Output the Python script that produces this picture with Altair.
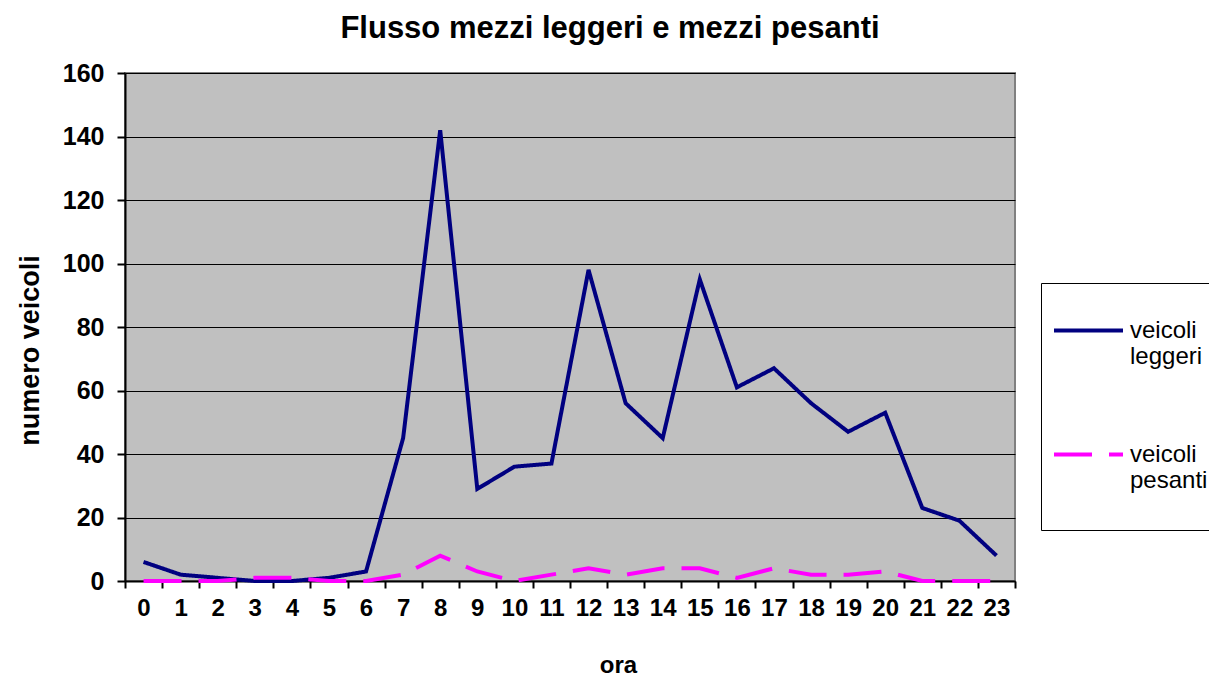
import altair as alt
import pandas as pd

ore = list(range(24))
leggeri = [6, 2, 1, 0, 0, 1, 3, 45, 142, 29, 36, 37, 98, 56, 45, 95, 61, 67, 56, 47, 53, 23, 19, 8]
pesanti = [0, 0, 0, 1, 1, 0, 0, 2, 8, 3, 0, 2, 4, 2, 4, 4, 1, 4, 2, 2, 3, 0, 0, 0]
serie = ["veicoli leggeri", "veicoli pesanti"]
colori = ["#000080", "#FF00FF"]
y_ticks = [0, 20, 40, 60, 80, 100, 120, 140, 160]

df = pd.DataFrame({
    "ora": ore + ore,
    "valore": leggeri + pesanti,
    "serie": [serie[0]] * len(ore) + [serie[1]] * len(ore),
})

FONT = "Liberation Sans"

legenda = alt.Legend(
    title=None,
    orient="none",
    legendX=916,
    legendY=210,
    padding=11,
    strokeColor="black",
    fillColor="white",
    cornerRadius=0,
    symbolType="stroke",
    symbolSize=4761,
    symbolStrokeWidth=4,
    labelFont=FONT,
    labelFontSize=24,
    labelOffset=5,
    labelLimit=300,
    rowPadding=23,
    labelExpr="[split(datum.label, ' ')[0], split(datum.label, ' ')[1], '']",
)

chart = alt.Chart(df).mark_line(strokeWidth=4, strokeCap="butt").encode(
    x=alt.X(
        "ora:O",
        scale=alt.Scale(type="band", paddingInner=0, paddingOuter=0),
        axis=alt.Axis(
            title="ora",
            labelAngle=0,
            tickBand="extent",
            grid=False,
            domainColor="black",
            domainWidth=2,
            tickColor="black",
            tickWidth=2,
            tickSize=7,
            labelFont=FONT,
            labelFontSize=24,
            labelFontWeight="bold",
            labelColor="black",
            labelPadding=8,
            titleFont=FONT,
            titleFontSize=24,
            titleFontWeight="bold",
            titleColor="black",
            titleX=493,
            titleY=91,
            titleBaseline="alphabetic",
        ),
    ),
    y=alt.Y(
        "valore:Q",
        scale=alt.Scale(domain=[0, 160], nice=False),
        axis=alt.Axis(
            title="numero veicoli",
            values=y_ticks,
            grid=True,
            gridColor="black",
            gridWidth=1.2,
            domainColor="black",
            domainWidth=2,
            tickColor="black",
            tickWidth=2,
            tickSize=8,
            labelFont=FONT,
            labelFontSize=25,
            labelFontWeight="bold",
            labelColor="black",
            labelPadding=13,
            titleFont=FONT,
            titleFontSize=27,
            titleFontWeight="bold",
            titleColor="black",
            titleX=-95,
            titleY=277,
            titleAlign="center",
            titleBaseline="middle",
        ),
    ),
    color=alt.Color("serie:N", scale=alt.Scale(domain=serie, range=colori), legend=legenda),
    strokeDash=alt.StrokeDash("serie:N", scale=alt.Scale(domain=serie, range=[[1, 0], [38, 17]]), legend=legenda),
).properties(
    width=890,
    height=508,
    title=alt.TitleParams(
        "Flusso mezzi leggeri e mezzi pesanti",
        font=FONT,
        fontSize=31,
        fontWeight="bold",
        color="black",
        anchor="middle",
        dx=40,
        offset=16,
    ),
    padding={"left": 117, "top": 65, "right": 194, "bottom": 97},
    autosize=alt.AutoSizeParams(type="none"),
    background="white",
).configure_view(
    fill="#C0C0C0",
    stroke="#808080",
    strokeWidth=2,
)

chart.save("out.html", embed_options={"renderer": "svg", "actions": False})
